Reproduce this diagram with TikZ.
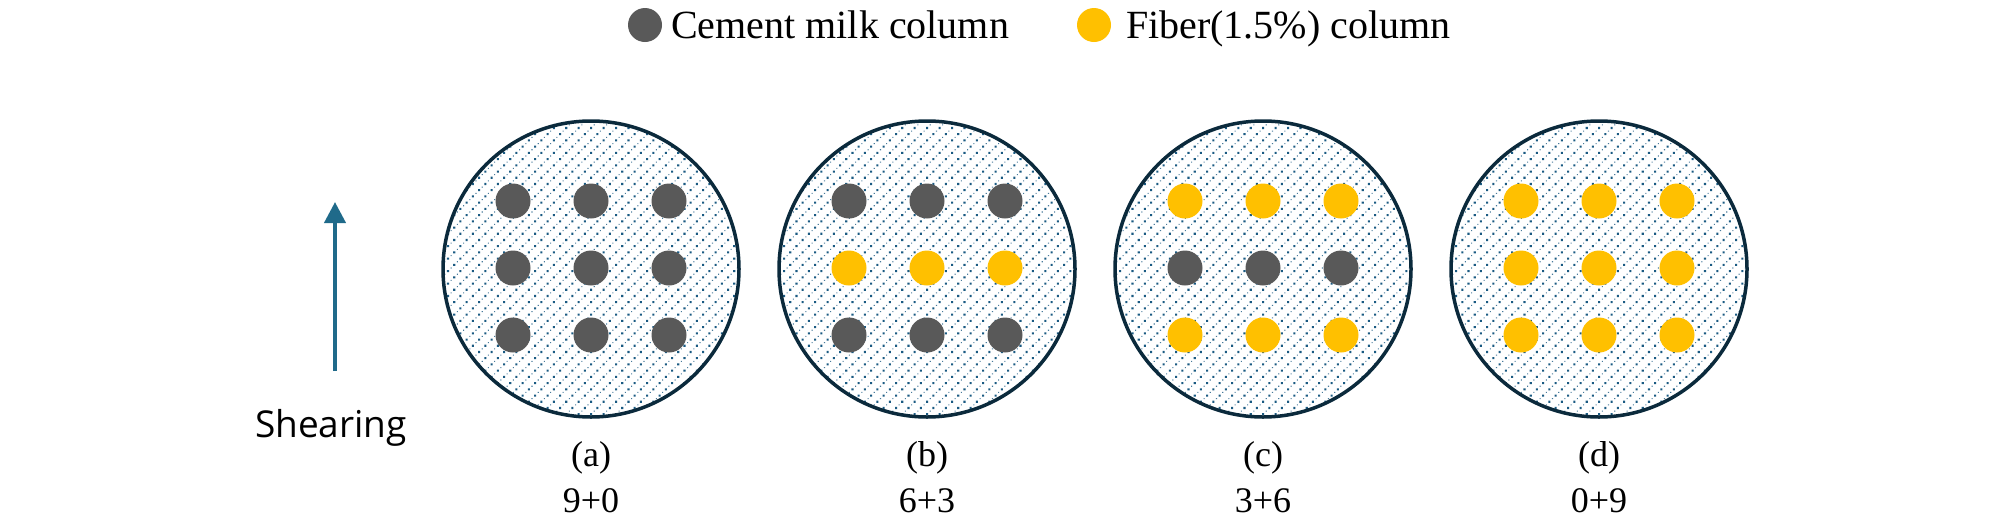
\documentclass[tikz,border=0pt]{standalone}
\usepackage{fontspec}
\setmainfont{Liberation Serif}
\newfontfamily\sansf{Open Sans}
\usetikzlibrary{patterns.meta,arrows.meta}
\definecolor{cgray}{HTML}{595959}
\definecolor{cyel}{HTML}{FFC000}
\definecolor{rim}{HTML}{0B2A3C}
\definecolor{texdot}{HTML}{1A5A82}
\definecolor{arrcol}{HTML}{1F6A8A}
\begin{document}
\begin{tikzpicture}[x=1pt,y=-1pt,
  specimen/.style={draw=rim,line width=3.5pt,
    pattern={Dots[distance=8.8pt,angle=45,radius=1.45pt]},pattern color=texdot},
  finedots/.style={pattern={Dots[distance=8.8pt,angle=45,radius=0.75pt,xshift=3.1pt,yshift=3.1pt]},pattern color=texdot!80},
  lab/.style={inner sep=0pt,anchor=base,font=\fontsize{36}{40}\selectfont},
  legtext/.style={inner sep=0pt,anchor=base west,font=\fontsize{40}{44}\selectfont},
  shear/.style={inner sep=0pt,anchor=base,font=\sansf\fontsize{37}{42}\selectfont},
  shaft/.style={draw=arrcol,line width=4pt,-{Triangle[length=21pt,width=21pt]}}
]
\useasboundingbox (0,0) rectangle (2008,520);
% legend
\fill[cgray] (645,25) circle[radius=17pt];
\node[legtext] (legA) at (671,38) {Cement milk column};
\fill[cyel] (1094,25) circle[radius=17pt];
\node[legtext] (legB) at (1126,38) {Fiber(1.5\%) column};
% shearing arrow
\coordinate (arrS) at (335,371);
\coordinate (arrE) at (335,202);
\draw[shaft] (arrS) -- (arrE);
\node[shear] (shearing) at (331,437) {Shearing};
% specimens
\foreach \cx/\lb/\rt/\ca/\cb/\cc in {591/a/9+0/cgray/cgray/cgray, 927/b/6+3/cgray/cyel/cgray, 1263/c/3+6/cyel/cgray/cyel, 1599/d/0+9/cyel/cyel/cyel} {
  \path[finedots] (\cx,269) circle[radius=147pt];
  \draw[specimen] (\cx,269) circle[radius=148pt];
  \foreach \dx in {-78,0,78} {
    \fill[\ca] (\cx+\dx,201) circle[radius=17.5pt];
    \fill[\cb] (\cx+\dx,268) circle[radius=17.5pt];
    \fill[\cc] (\cx+\dx,335) circle[radius=17.5pt];
  }
  \node[lab] (lab\lb) at (\cx,466) {(\lb)};
  \node[lab] (num\lb) at (\cx,512) {\rt};
}
\end{tikzpicture}
\end{document}
